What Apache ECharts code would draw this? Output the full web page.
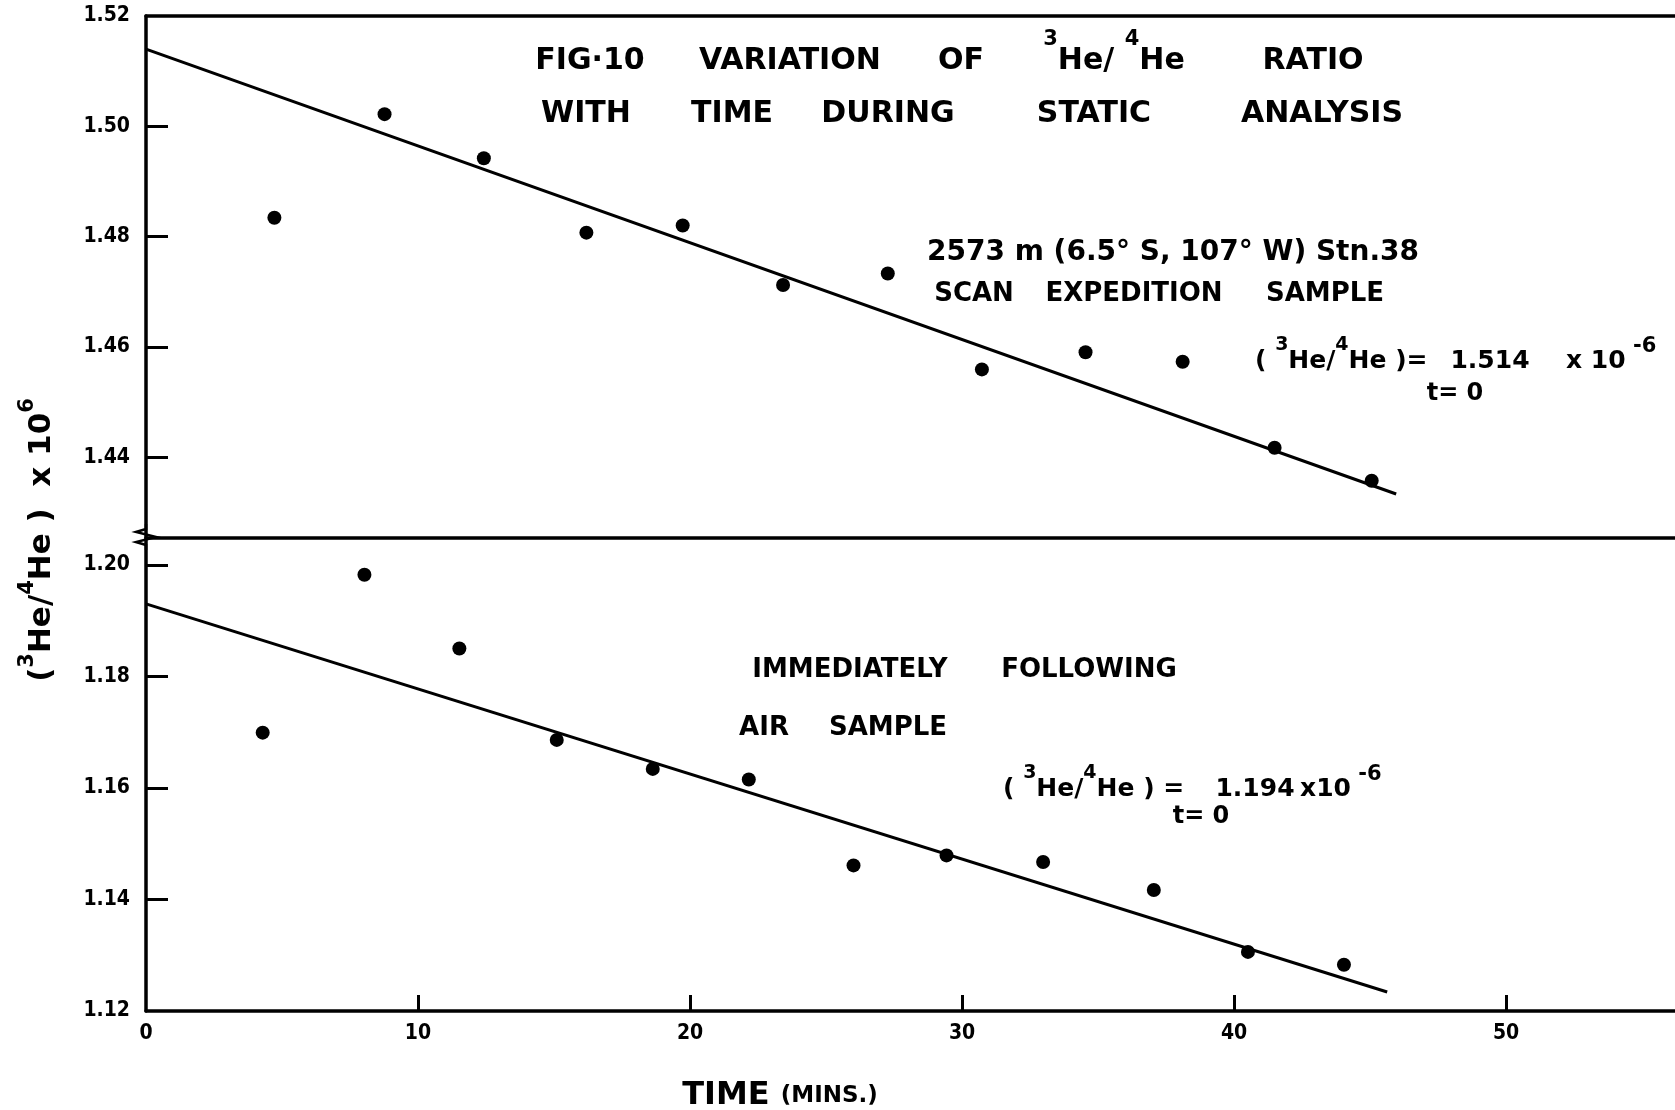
<!DOCTYPE html>
<html>
<head>
<meta charset="utf-8">
<script src="https://cdn.jsdelivr.net/npm/echarts/dist/echarts.min.js"></script>
<style>
  html, body { margin: 0; padding: 0; background: #fff; }
  #chart { width: 1675px; height: 1110px; }
</style>
</head>
<body>
<div id="chart"></div>
<script>
// deep sample, Stn.38
const topTime = [4.72, 8.77, 12.42, 16.19, 19.73, 23.42, 27.27, 30.73, 34.54, 38.11, 41.49, 45.06]
const topRatio = [1.4834, 1.5022, 1.4942, 1.4807, 1.4820, 1.4712, 1.4733, 1.4559, 1.4590, 1.4573, 1.4417, 1.4357]
const topFitTime = [0, 45.96]
const topFitRatio = [1.514, 1.4333]

// air sample right after
const airTime = [4.29, 8.03, 11.52, 15.10, 18.63, 22.16, 26.01, 29.43, 32.98, 37.05, 40.51, 44.04]
const airRatio = [1.1699, 1.1982, 1.1850, 1.1686, 1.1634, 1.1615, 1.1461, 1.1479, 1.1467, 1.1417, 1.1306, 1.1283]
const airFitTime = [0, 45.63]
const airFitRatio = [1.193, 1.1234]

// ticks
const timeLabels = [0, 10, 20, 30, 40, 50]
const timeTicks = [10, 20, 30, 40, 50]
const topLabels = [1.44, 1.46, 1.48, 1.50, 1.52]
const topTicks = [1.44, 1.46, 1.48, 1.50]
const airLabels = [1.12, 1.14, 1.16, 1.18, 1.20]
const airTicks = [1.14, 1.16, 1.18, 1.20]

const FONT = "'DejaVu Sans', sans-serif"
const NARROW = "'DejaVu Sans Condensed', 'DejaVu Sans', sans-serif"
const INK = '#000'

const pairs = (xs, ys) => xs.map((x, i) => [x, ys[i]])

function txt(text, x, y, size, align, rich) {
  const style = {
    text: text,
    fontFamily: FONT,
    fontWeight: 'bold',
    fontSize: size,
    fill: INK,
    textAlign: align || 'center',
    textVerticalAlign: 'middle'
  }
  if (rich) style.rich = rich
  return { type: 'text', x: x, y: y, style: style }
}

function supRich(main, sup, lh, supLh, small) {
  return {
    m: { fontFamily: FONT, fontWeight: 'bold', fontSize: main, lineHeight: lh, fill: INK },
    n: { fontFamily: FONT, fontWeight: 'bold', fontSize: small || Math.round(main * 0.68), lineHeight: lh, fill: INK },
    s: { fontFamily: FONT, fontWeight: 'bold', fontSize: sup, lineHeight: supLh, verticalAlign: 'top', fill: INK }
  }
}

const axisLine = { show: true, lineStyle: { color: INK, width: 3.5 } }
const labelStyle = { fontFamily: NARROW, fontWeight: 'bold', fontSize: 21, color: INK }
const TMAX = 56.21

const chart = echarts.init(document.getElementById('chart'))
chart.setOption({
  backgroundColor: '#fff',
  animation: false,
  grid: [
    { left: 146, top: 16, right: 0, height: 521 },
    { left: 146, top: 538, right: 0, height: 473 }
  ],
  xAxis: [
    {
      type: 'value', gridIndex: 0, position: 'top', min: 0, max: TMAX,
      axisLine: axisLine, axisTick: { show: false }, axisLabel: { show: false }, splitLine: { show: false }
    },
    {
      type: 'value', gridIndex: 1, position: 'bottom', min: 0, max: TMAX,
      axisLine: axisLine,
      axisTick: { show: true, inside: true, length: 16, customValues: timeTicks, lineStyle: { color: INK, width: 3 } },
      axisLabel: Object.assign({ customValues: timeLabels, margin: 12, formatter: v => String(v) }, labelStyle),
      splitLine: { show: false }
    },
    {
      type: 'value', gridIndex: 1, position: 'top', min: 0, max: TMAX,
      axisLine: axisLine, axisTick: { show: false }, axisLabel: { show: false }, splitLine: { show: false }
    }
  ],
  yAxis: [
    {
      type: 'value', gridIndex: 0, min: 1.4255, max: 1.52,
      axisLine: Object.assign({ onZero: false }, axisLine),
      axisTick: { show: true, inside: true, length: 22, customValues: topTicks, lineStyle: { color: INK, width: 3 } },
      axisLabel: Object.assign({ customValues: topLabels, margin: 16, formatter: v => v.toFixed(2) }, labelStyle),
      splitLine: { show: false }
    },
    {
      type: 'value', gridIndex: 1, min: 1.12, max: 1.2048,
      axisLine: Object.assign({ onZero: false }, axisLine),
      axisTick: { show: true, inside: true, length: 22, customValues: airTicks, lineStyle: { color: INK, width: 3 } },
      axisLabel: Object.assign({ customValues: airLabels, margin: 16, formatter: v => v.toFixed(2) }, labelStyle),
      splitLine: { show: false }
    }
  ],
  series: [
    {
      type: 'scatter', xAxisIndex: 0, yAxisIndex: 0,
      data: pairs(topTime, topRatio),
      symbolSize: 14, itemStyle: { color: INK, opacity: 1 }
    },
    {
      type: 'line', xAxisIndex: 0, yAxisIndex: 0,
      data: pairs(topFitTime, topFitRatio),
      showSymbol: false, lineStyle: { color: INK, width: 3 }
    },
    {
      type: 'scatter', xAxisIndex: 1, yAxisIndex: 1,
      data: pairs(airTime, airRatio),
      symbolSize: 14, itemStyle: { color: INK, opacity: 1 }
    },
    {
      type: 'line', xAxisIndex: 1, yAxisIndex: 1,
      data: pairs(airFitTime, airFitRatio),
      showSymbol: false, lineStyle: { color: INK, width: 3 }
    }
  ],
  graphic: [
    // title, two lines, hand lettered with wide gaps
    txt('FIG·10', 590, 61, 30),
    txt('VARIATION', 790, 61, 30),
    txt('OF', 961, 61, 30),
    txt('{s|3}{m|He/ }{s|4}{m|He}', 1114, 61, 30, 'center', supRich(30, 21, 64, 18)),
    txt('RATIO', 1313, 61, 30),
    txt('WITH', 586, 114, 30),
    txt('TIME', 732, 114, 30),
    txt('DURING', 888, 114, 30),
    txt('STATIC', 1094, 114, 30),
    txt('ANALYSIS', 1322, 114, 30),

    // upper panel notes
    txt('2573 m (6.5° S, 107° W) Stn.38', 927, 253, 28, 'left'),
    txt('SCAN', 974, 294, 26),
    txt('EXPEDITION', 1134, 294, 26),
    txt('SAMPLE', 1325, 294, 26),
    txt('{m|( }{s|3}{m|He/}{s|4}{m|He )=}', 1255, 361, 25, 'left', supRich(25, 19, 50, 14)),
    txt('1.514', 1490, 361, 25),
    txt('{m|x 10}{s| -6}', 1566, 361, 25, 'left', supRich(25, 21, 50, 16)),
    txt('t= 0', 1455, 394, 24),

    // lower panel notes
    txt('IMMEDIATELY', 850, 670, 26),
    txt('FOLLOWING', 1089, 670, 26),
    txt('AIR', 764, 728, 26),
    txt('SAMPLE', 888, 728, 26),
    txt('{m|( }{s|3}{m|He/}{s|4}{m|He ) =}', 1003, 789, 25, 'left', supRich(25, 19, 50, 14)),
    txt('1.194', 1255, 789, 25),
    txt('{m|x10}{s| -6}', 1300, 789, 25, 'left', supRich(25, 21, 50, 16)),
    txt('t= 0', 1201, 817, 24),

    // axis titles
    txt('{m|TIME }{n|(MINS.)}', 780, 1096, 32, 'center', supRich(32, 20, 38, 20, 23)),
    {
      type: 'text', x: 42, y: 540, rotation: Math.PI / 2,
      style: {
        text: '{m|(}{s|3}{m|He/}{s|4}{m|He )  x 10}{s|6}',
        fontFamily: FONT, fontWeight: 'bold', fontSize: 31, fill: INK,
        textAlign: 'center', textVerticalAlign: 'middle',
        rich: supRich(31, 21, 50, 20)
      }
    },

    // axis break mark
    {
      type: 'polyline',
      shape: { points: [[146, 524], [146, 529], [136, 532], [156, 537], [136, 542], [146, 545], [146, 550]] },
      style: { stroke: INK, lineWidth: 2.5, fill: null }
    }
  ]
})
</script>
</body>
</html>
